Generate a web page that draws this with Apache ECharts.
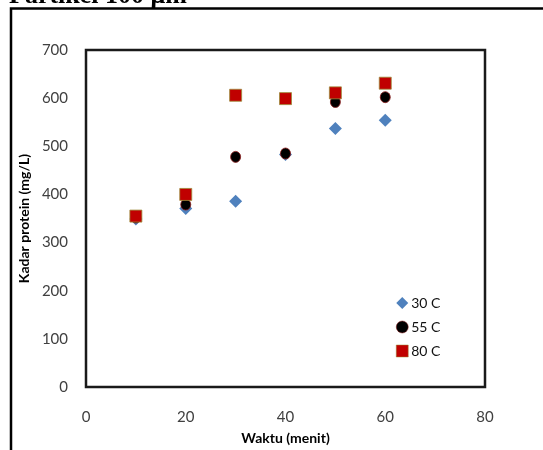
<!DOCTYPE html>
<html>
<head>
<meta charset="utf-8">
<script src="https://cdn.jsdelivr.net/npm/echarts@6/dist/echarts.min.js"></script>
<style>html,body{margin:0;padding:0;background:#fff;}#c{width:543px;height:450px;}</style>
</head>
<body>
<div id="c"></div>
<script>
// Data
const waktu = [10, 20, 30, 40, 50, 60];
const s30 = [349, 371, 386, 483, 537, 554];
const s55 = [352, 379, 478, 485, 592, 602];
const s80 = [355, 400, 606, 599, 611, 631];
const seriesNames = ['30 C', '55 C', '80 C'];
const xTicks = [0, 20, 40, 60, 80];
const yTicks = [0, 100, 200, 300, 400, 500, 600, 700];

const pairs = arr => waktu.map((x, i) => [x, arr[i]]);
const font = 'Lato, "Open Sans", sans-serif';

const chart = echarts.init(document.getElementById('c'), null, {renderer: 'canvas'});
chart.setOption({
  animation: false,
  backgroundColor: '#ffffff',
  grid: {left: 86, right: 58, top: 50, bottom: 60, show: true, borderColor: '#1a1a1a', borderWidth: 2.5, backgroundColor: 'transparent'},
  xAxis: {
    type: 'value', min: xTicks[0], max: xTicks[xTicks.length - 1], interval: 20,
    name: 'Waktu (menit)', nameLocation: 'middle', nameGap: 44,
    nameTextStyle: {fontFamily: font, fontWeight: 'bold', fontSize: 14, color: '#000'},
    axisLine: {show: false}, axisTick: {show: false}, splitLine: {show: false},
    axisLabel: {fontFamily: font, fontSize: 15, color: '#404040', margin: 23}
  },
  yAxis: {
    type: 'value', min: yTicks[0], max: yTicks[yTicks.length - 1], interval: 100,
    name: 'Kadar protein (mg/L)', nameLocation: 'middle', nameGap: 51,
    nameTextStyle: {fontFamily: font, fontWeight: 'bold', fontSize: 14, color: '#000'},
    axisLine: {show: false}, axisTick: {show: false}, splitLine: {show: false},
    axisLabel: {fontFamily: font, fontSize: 15, color: '#404040', margin: 18}
  },
  legend: {
    orient: 'vertical', left: 391, top: 291, itemWidth: 12, itemHeight: 12, itemGap: 10,
    textStyle: {fontFamily: font, fontSize: 14, color: '#111', padding: [0, 0, 0, -2]},
    data: [
      {name: seriesNames[0]},
      {name: seriesNames[1], itemStyle: {borderWidth: 0.5}},
      {name: seriesNames[2], itemStyle: {borderWidth: 0.5}}
    ]
  },
  series: [
    {name: seriesNames[0], type: 'scatter', symbol: 'diamond', symbolSize: 13, data: pairs(s30),
     itemStyle: {color: '#4f81bd', opacity: 1}},
    {name: seriesNames[1], type: 'scatter', symbol: 'circle', symbolSize: [10, 11], data: pairs(s55),
     itemStyle: {color: '#000000', borderColor: '#8b1a1a', borderWidth: 0.8, opacity: 1}},
    {name: seriesNames[2], type: 'scatter', symbol: 'rect', symbolSize: 12, data: pairs(s80),
     itemStyle: {color: '#c00000', borderColor: '#9c8c3a', borderWidth: 0.8, opacity: 1}}
  ],
  graphic: [
    {type: 'rect', shape: {x: 11, y: 8.5, width: 700, height: 700}, style: {fill: 'none', stroke: '#000', lineWidth: 2.5}, silent: true},
    {type: 'text', x: 9, y: 9, style: {text: 'Partikel 100 μm', font: 'bold 26px "Liberation Serif", serif', fill: '#000', verticalAlign: 'bottom', align: 'left'}, silent: true}
  ]
});
</script>
</body>
</html>
